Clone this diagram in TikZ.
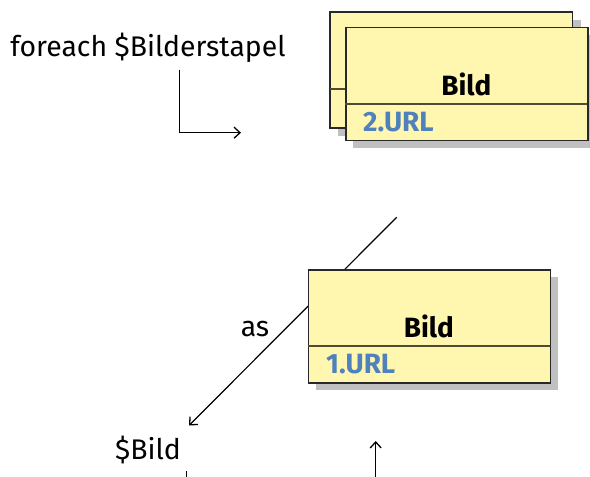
\documentclass[tikz,border=0pt]{standalone}
\usepackage{fontspec}
\setmainfont{Fira Sans}
\usetikzlibrary{arrows.meta}
\definecolor{boxfill}{RGB}{255,246,176}
\definecolor{boxline}{RGB}{40,40,40}
\definecolor{divline}{RGB}{80,76,50}
\definecolor{shadowc}{RGB}{192,192,192}
\definecolor{urlc}{RGB}{79,129,189}
\tikzset{
  box/.style={draw=boxline, line width=1.3bp, fill=boxfill},
  shadowbox/.style={fill=shadowc, draw=none},
  divider/.style={draw=divline, line width=1.3bp},
  title/.style={font=\fontsize{28}{33}\selectfont\bfseries, inner sep=0pt, anchor=base},
  urltext/.style={font=\fontsize{28}{33}\selectfont\bfseries, text=urlc, inner sep=0pt, anchor=base west},
  plain/.style={font=\fontsize{28.5}{34}\selectfont, inner sep=0pt, anchor=base},
  conn/.style={line width=1.2bp, -{Straight Barb[length=6bp,width=11bp,line width=1.3bp]}},
}
\begin{document}
\begin{tikzpicture}[x=1bp,y=-1bp]
\useasboundingbox (0,0) rectangle (590,477);
% diagonal connector (behind boxes)
\coordinate (d1) at (396.7,217.3);
\coordinate (d2) at (189,425.5);
\draw[conn] (d1) -- (d2);
% top stack: back box
\fill[shadowbox] (338,20) rectangle (580.7,136);
\draw[box] (330,12) rectangle (572.7,128);
\draw[divider] (330,89) -- (572.7,89);
% top stack: front box
\fill[shadowbox] (353.3,35) rectangle (595.3,148);
\node[box, minimum width=242bp, minimum height=113bp, inner sep=0pt, anchor=north west] (topbox) at (345.3,27) {};
\draw[divider] (345.3,104) -- (587.3,104);
\node[title] (toptitle) at (466.3,96) {Bild};
\node[urltext] (topurl) at (363,131.7) {2.URL};
% bottom box
\fill[shadowbox] (315.7,277.3) rectangle (558,390.3);
\node[box, minimum width=242.3bp, minimum height=113bp, inner sep=0pt, anchor=north west] (botbox) at (307.7,269.3) {};
\draw[divider] (307.7,346) -- (550,346);
\node[title] (bottitle) at (428.8,337.7) {Bild};
\node[urltext] (boturl) at (326,373.3) {1.URL};
% texts
\node[plain] (foreach) at (148,56.5) {foreach \$Bilderstapel};
\node[plain] (as) at (255,336.7) {as};
\node[plain] (bild) at (148,459.3) {\$Bild};
% connectors
\coordinate (f1) at (179.3,70);
\coordinate (f2) at (179.3,132.7);
\coordinate (f3) at (241,132.7);
\draw[conn] (f1) -- (f2) -- (f3);
\coordinate (t1) at (186.7,471);
\coordinate (t2) at (186.7,478);
\draw[line width=1.2bp] (t1) -- (t2);
\coordinate (u1) at (375.7,478);
\coordinate (u2) at (375.7,441);
\draw[conn] (u1) -- (u2);
\end{tikzpicture}
\end{document}
